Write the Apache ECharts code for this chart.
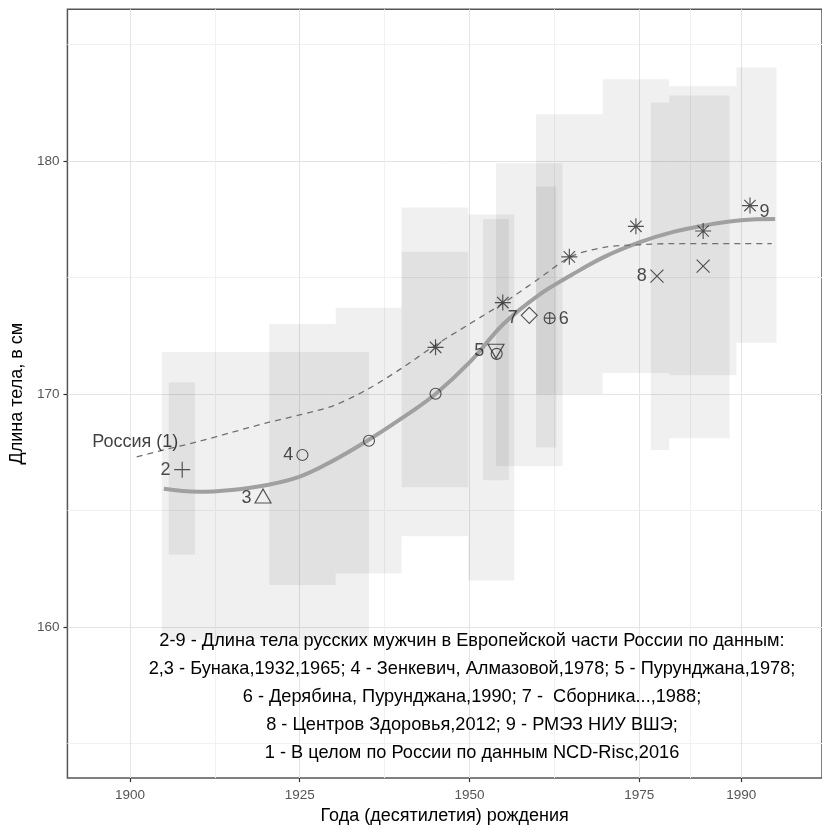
<!DOCTYPE html>
<html><head><meta charset="utf-8">
<script src="https://cdn.jsdelivr.net/npm/echarts@6/dist/echarts.min.js"></script>
<style>html,body{margin:0;padding:0;background:#fff}#c{width:822px;height:830px}</style>
</head><body><div id="c"></div>
<script>
// ---- axes ----
const xTicks = [1900, 1925, 1950, 1975, 1990];
const xMinorTicks = [1912.5, 1937.5, 1962.5, 1982.5];
const yTicks = [160, 170, 180];
const yMinorTicks = [155, 165, 175, 185];

// ---- (1) Russia, NCD-RisC (dashed) ----
const russiaYears = [1901, 1905, 1910, 1915, 1920, 1925, 1930, 1935, 1940, 1945, 1950, 1955, 1960, 1965, 1970, 1975, 1980, 1985, 1990, 1994.5];
const russiaVals  = [167.3, 167.6, 167.95, 168.35, 168.75, 169.1, 169.5, 170.2, 171.1, 172.1, 173.0, 173.9, 174.9, 175.9, 176.3, 176.4, 176.45, 176.45, 176.45, 176.45];

// ---- smoothed trend with confidence band ----
const smoothYears = [1905, 1910, 1915, 1920, 1925, 1930, 1935, 1940, 1945, 1950, 1955, 1960, 1965, 1970, 1975, 1980, 1985, 1990, 1995];
const smoothVals  = [165.93, 165.8, 165.88, 166.08, 166.45, 167.15, 168.0, 168.95, 170.0, 171.35, 173.0, 174.2, 175.1, 175.9, 176.5, 176.95, 177.25, 177.45, 177.5];
const smoothSE    = [0.55, 0.36, 0.26, 0.22, 0.21, 0.2, 0.2, 0.2, 0.2, 0.2, 0.2, 0.2, 0.2, 0.2, 0.2, 0.2, 0.22, 0.3, 0.5];

// ---- point series 2..9 ----
const s2Years = [1907.7];  const s2Vals = [166.75]; const s2Labels = ['2'];
const s3Years = [1919.6];  const s3Vals = [165.62]; const s3Labels = ['3'];
const s4Years = [1925.4, 1935.2, 1945.0, 1954.0]; const s4Vals = [167.38, 167.99, 170.01, 171.72]; const s4Labels = ['4', '', '', ''];
const s5Years = [1953.9];  const s5Vals = [171.83]; const s5Labels = ['5'];
const s6Years = [1961.8];  const s6Vals = [173.25]; const s6Labels = ['6'];
const s7Years = [1958.8];  const s7Vals = [173.37]; const s7Labels = ['7'];
const s8Years = [1977.6, 1984.4]; const s8Vals = [175.05, 175.48]; const s8Labels = ['8', ''];
const s9Years = [1945.0, 1954.9, 1964.7, 1974.5, 1984.4, 1991.3]; const s9Vals = [172.0, 173.92, 175.88, 177.19, 176.99, 178.08]; const s9Labels = ['', '', '', '', '', '9'];

// ---- ranges (grey rectangles): birth-year span and value range ----
const rectX0 = [1904.7, 1905.7, 1920.5, 1930.3, 1940.0, 1940.0, 1949.8, 1952.0, 1953.9, 1959.8, 1959.8, 1969.6, 1979.4, 1989.3, 1976.7, 1979.4];
const rectX1 = [1935.2, 1909.6, 1930.3, 1940.0, 1949.8, 1949.8, 1956.6, 1955.8, 1963.7, 1962.8, 1969.6, 1979.4, 1989.3, 1995.2, 1979.4, 1988.3];
const rectLo = [159.45, 163.1, 161.8, 162.3, 163.9, 166.0, 162.0, 166.3, 166.9, 167.7, 170.0, 170.9, 170.8, 172.2, 167.6, 168.1];
const rectHi = [171.8, 170.5, 173.0, 173.7, 176.1, 178.0, 177.7, 177.5, 179.9, 178.9, 182.0, 183.5, 183.2, 184.0, 182.5, 182.8];

const noteLines = [
  '2-9 - Длина тела русских мужчин в Европейской части России по данным:',
  '2,3 - Бунака,1932,1965; 4 - Зенкевич, Алмазовой,1978; 5 - Пурунджана,1978;',
  '6 - Дерябина, Пурунджана,1990; 7 -  Сборника...,1988;',
  '8 - Центров Здоровья,2012; 9 - РМЭЗ НИУ ВШЭ;',
  '1 - В целом по России по данным NCD-Risc,2016'
];

const FONT = 'Liberation Sans, Arial, sans-serif';
const pts = (xs, ys) => xs.map((x, i) => [x, ys[i]]);

const SYM = {
  plus: 'path://M0,8L16,8M8,0L8,16',
  cross: 'path://M0,0L16,16M0,16L16,0',
  star: 'path://M0,8L16,8M8,0L8,16M2.3,2.3L13.7,13.7M2.3,13.7L13.7,2.3',
  triUp: 'path://M8,0L16,13.86L0,13.86Z',
  triDown: 'path://M0,0L16,0L8,13.86Z',
  diamond: 'path://M8,0L16,8L8,16L0,8Z',
  circlePlus: 'path://M0,8A8,8 0 1 1 16,8A8,8 0 1 1 0,8ZM0,8L16,8M8,0L8,16'
};

function scatter(xs, ys, labels, symbol, size, pos, offset) {
  return {
    type: 'scatter', silent: true, z: 5,
    symbol: symbol, symbolSize: size, symbolKeepAspect: false,
    itemStyle: { color: 'rgba(0,0,0,0)', borderColor: '#2a2a2a', borderWidth: 1.15 },
    label: {
      show: true, position: pos, offset: offset || [0, 0], distance: 3,
      formatter: p => labels[p.dataIndex],
      fontSize: 18, color: '#222', fontFamily: FONT
    },
    data: pts(xs, ys)
  };
}

const rectData = rectX0.map((x, i) => [x, rectX1[i], rectLo[i], rectHi[i]]);
const bandLow = smoothVals.map((v, i) => v - smoothSE[i]);
const bandRange = smoothSE.map(s => 2 * s);

const chart = echarts.init(document.getElementById('c'), null, { renderer: 'canvas' });
const XMIN = 1890.8, XMAX = 2001.9, YMIN = 153.52, YMAX = 186.5;

chart.setOption({
  animation: false,
  backgroundColor: '#fff',
  grid: { left: 66.7, right: -1, top: 9.3, bottom: 47.3, show: true, borderColor: '#555', borderWidth: 1.5, backgroundColor: 'transparent' },
  xAxis: [
    {
      type: 'value', min: XMIN, max: XMAX, position: 'bottom',
      axisLine: { show: false },
      axisTick: { show: true, customValues: xTicks, length: 4, lineStyle: { color: '#333', width: 1.2 } },
      axisLabel: { customValues: xTicks, color: '#555', fontSize: 13.5, fontFamily: FONT, margin: 10, formatter: v => String(v) },
      splitLine: { show: true, customValues: xTicks, lineStyle: { color: '#e4e4e4', width: 1 } },
      name: 'Года (десятилетия) рождения', nameLocation: 'middle', nameGap: 26,
      nameTextStyle: { fontSize: 18, color: '#000', fontFamily: FONT }
    },
    {
      type: 'value', min: XMIN, max: XMAX, position: 'top',
      axisLine: { show: false }, axisLabel: { show: false },
      axisTick: { show: false, customValues: xMinorTicks },
      splitLine: { show: true, customValues: xMinorTicks, lineStyle: { color: '#f1f1f1', width: 1 } }
    }
  ],
  yAxis: [
    {
      type: 'value', min: YMIN, max: YMAX, position: 'left',
      axisLine: { show: false },
      axisTick: { show: true, customValues: yTicks, length: 4, lineStyle: { color: '#333', width: 1.2 } },
      axisLabel: { customValues: yTicks, color: '#555', fontSize: 13.5, fontFamily: FONT, margin: 8, formatter: v => String(v) },
      splitLine: { show: true, customValues: yTicks, lineStyle: { color: '#e4e4e4', width: 1 } },
      name: 'Длина тела, в см', nameLocation: 'middle', nameGap: 40, nameRotate: 90,
      nameTextStyle: { fontSize: 18, color: '#000', fontFamily: FONT }
    },
    {
      type: 'value', min: YMIN, max: YMAX, position: 'right',
      axisLine: { show: false }, axisLabel: { show: false },
      axisTick: { show: false, customValues: yMinorTicks },
      splitLine: { show: true, customValues: yMinorTicks, lineStyle: { color: '#f1f1f1', width: 1 } }
    }
  ],
  series: [
    {
      type: 'custom', silent: true, z: 1, clip: true,
      data: rectData,
      encode: { x: [0, 1], y: [2, 3] },
      renderItem: (params, api) => {
        const a = api.coord([api.value(0), api.value(3)]);
        const b = api.coord([api.value(1), api.value(2)]);
        return { type: 'rect', shape: { x: a[0], y: a[1], width: b[0] - a[0], height: b[1] - a[1] },
                 style: { fill: 'rgba(0,0,0,0.06)' } };
      }
    },
    {
      type: 'line', silent: true, z: 2, stack: 'ci', symbol: 'none', smooth: 0.4,
      lineStyle: { opacity: 0 }, data: pts(smoothYears, bandLow)
    },
    {
      type: 'line', silent: true, z: 2, stack: 'ci', symbol: 'none', smooth: 0.4,
      lineStyle: { opacity: 0 }, areaStyle: { color: 'rgba(150,150,150,0.42)', opacity: 1 },
      data: pts(smoothYears, bandRange)
    },
    {
      type: 'line', silent: true, z: 3, symbol: 'none', smooth: 0.4,
      lineStyle: { color: '#a0a0a0', width: 4 }, data: pts(smoothYears, smoothVals)
    },
    {
      type: 'line', silent: true, z: 4, symbol: 'none', smooth: 0.3,
      lineStyle: { color: '#707070', width: 1.3, type: [6, 5] }, data: pts(russiaYears, russiaVals)
    },
    {
      type: 'scatter', silent: true, z: 5, symbolSize: 0,
      label: { show: true, position: 'inside', formatter: 'Россия (1)', fontSize: 18, color: '#111', fontFamily: FONT },
      data: [[1900.8, 167.92]]
    },
    scatter(s2Years, s2Vals, s2Labels, SYM.plus, 16, 'left'),
    scatter(s3Years, s3Vals, s3Labels, SYM.triUp, [16, 14], 'left', [0, 2]),
    scatter(s4Years, s4Vals, s4Labels, 'circle', 11, 'left'),
    scatter(s5Years, s5Vals, s5Labels, SYM.triDown, [16, 14], 'left'),
    scatter(s6Years, s6Vals, s6Labels, SYM.circlePlus, 11, 'right', [0, 1]),
    scatter(s7Years, s7Vals, s7Labels, SYM.diamond, 16, 'left', [0, 3]),
    scatter(s8Years, s8Vals, s8Labels, SYM.cross, 13, 'left'),
    scatter(s9Years, s9Vals, s9Labels, SYM.star, 16, 'right', [-2, 6])
  ],
  graphic: noteLines.map((t, i) => ({
    type: 'text', x: 472, y: 641 + i * 28, z: 10, silent: true,
    style: { text: t, fill: '#000', fontSize: 18.2, fontFamily: FONT, align: 'center', verticalAlign: 'middle' }
  }))
});
</script>
</body></html>
